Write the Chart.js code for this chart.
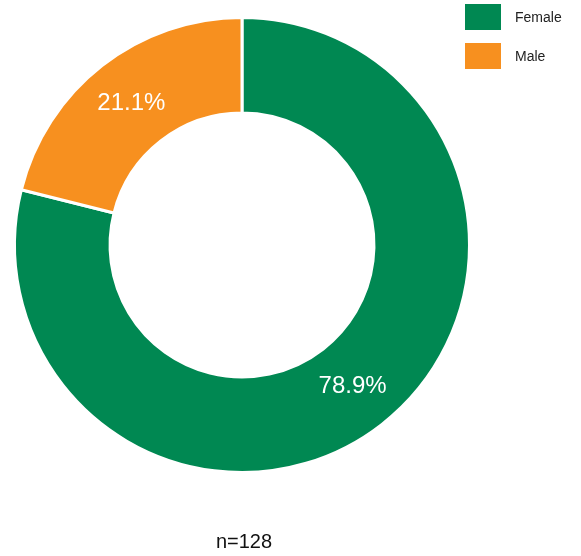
<!DOCTYPE html>
<html>
<head>
<meta charset="utf-8">
<title>Gender split</title>
<script src="https://cdn.jsdelivr.net/npm/chart.js@4/dist/chart.umd.min.js"></script>
<style>
    html, body {
        margin: 0;
        padding: 0;
        background: #fff;
    }
    .chart-wrap {
        position: relative;
        width: 581px;
        height: 556px;
    }
</style>
</head>
<body>
<div class="chart-wrap">
    <canvas id="genderChart"></canvas>
</div>
<script>
// Respondents by gender
const genderLabels = ['Female', 'Male'];
const genderShares = [78.9, 21.1];
const genderColors = ['#008852', '#F7901F'];
const sampleSize = 128;

const FONT = "'Liberation Sans', Arial, Helvetica, sans-serif";

/**
 * Percentage label in the middle of each ring segment
 */
const sliceLabels = {
    id: 'sliceLabels',
    afterDatasetsDraw(chart) {
        const ctx = chart.ctx;
        const meta = chart.getDatasetMeta(0);
        const values = chart.data.datasets[0].data;
        ctx.save();
        ctx.fillStyle = '#fff';
        ctx.font = `24px ${FONT}`;
        ctx.textAlign = 'center';
        ctx.textBaseline = 'middle';
        meta.data.forEach((arc, i) => {
            const pos = arc.tooltipPosition();
            ctx.fillText(values[i].toFixed(1) + '%', pos.x, pos.y);
        });
        ctx.restore();
    }
};

/**
 * Square swatch legend in the top right corner
 */
const cornerLegend = {
    id: 'cornerLegend',
    afterDraw(chart, args, opts) {
        const ctx = chart.ctx;
        const dataset = chart.data.datasets[0];
        const left = chart.width - opts.right;
        ctx.save();
        ctx.font = `14px ${FONT}`;
        ctx.textBaseline = 'middle';
        ctx.textAlign = 'left';
        chart.data.labels.forEach((label, i) => {
            const top = opts.top + i * opts.step;
            ctx.fillStyle = dataset.backgroundColor[i];
            ctx.fillRect(left, top, opts.boxWidth, opts.boxHeight);
            ctx.fillStyle = '#222';
            ctx.fillText(label, left + opts.boxWidth + opts.gap, top + opts.boxHeight / 2 + 1);
        });
        ctx.restore();
    }
};

/**
 * Sample size note under the ring
 */
const sampleNote = {
    id: 'sampleNote',
    afterDraw(chart, args, opts) {
        const ctx = chart.ctx;
        const area = chart.chartArea;
        ctx.save();
        ctx.fillStyle = '#111';
        ctx.font = `20px ${FONT}`;
        ctx.textAlign = 'center';
        ctx.textBaseline = 'middle';
        ctx.fillText(opts.text, (area.left + area.right) / 2 + 2, chart.height - 14);
        ctx.restore();
    }
};

const canvas = document.getElementById('genderChart');

new Chart(canvas.getContext('2d'), {
    type: 'doughnut',
    data: {
        labels: genderLabels,
        datasets: [{
            data: genderShares,
            backgroundColor: genderColors,
            borderColor: '#fff',
            borderWidth: 3,
            hoverOffset: 0
        }]
    },
    options: {
        responsive: true,
        maintainAspectRatio: false,
        animation: false,
        cutout: '58%',
        layout: {
            padding: {
                left: 13,
                top: 16,
                right: 110,
                bottom: 82
            }
        },
        plugins: {
            legend: {
                display: false
            },
            tooltip: {
                enabled: false
            },
            cornerLegend: {
                right: 116,
                top: 4,
                step: 39,
                boxWidth: 36,
                boxHeight: 26,
                gap: 14
            },
            sampleNote: {
                text: 'n=' + sampleSize
            }
        }
    },
    plugins: [sliceLabels, cornerLegend, sampleNote]
});
</script>
</body>
</html>
